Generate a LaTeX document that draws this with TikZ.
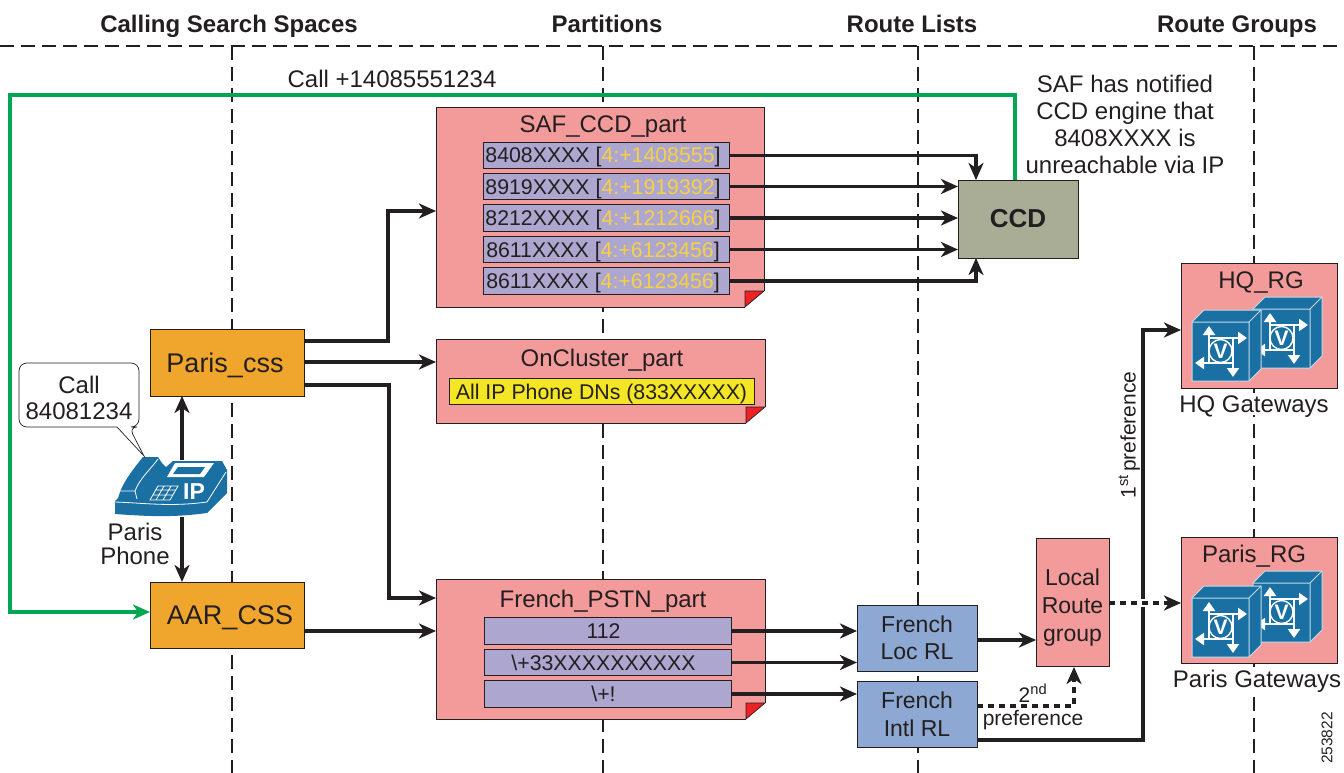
\documentclass[tikz,border=0pt]{standalone}
\usepackage{fontspec}
\setmainfont{Liberation Sans}
\usetikzlibrary{arrows.meta}
\definecolor{encre}{HTML}{231F20}
\definecolor{rose}{HTML}{F39A9A}
\definecolor{orange}{HTML}{F0A62C}
\definecolor{mauve}{HTML}{ADA6CE}
\definecolor{kaki}{HTML}{A9AD96}
\definecolor{bleu}{HTML}{8DA9D3}
\definecolor{jaune}{HTML}{F5E625}
\definecolor{vert}{HTML}{00A651}
\definecolor{rouge}{HTML}{ED2224}
\definecolor{cisco}{HTML}{1A6FA3}
\definecolor{or}{HTML}{F7D046}
\newcommand{\taille}[1]{\fontsize{#1}{#1}\selectfont}
\begin{document}
\begin{tikzpicture}[x=1pt, y=-1pt]
\tikzset{
  noeud/.style={draw=encre, line width=1pt, outer sep=0pt, inner sep=0pt, text=encre, align=center, font=\taille{24}},
  partie/.style={noeud, fill=rose},
  css/.style={noeud, fill=orange, font=\taille{27}, text height=19pt, text depth=0pt},
  entree/.style={noeud, fill=mauve, minimum width=246pt, minimum height=26.5pt, font=\taille{21.3}, text height=15pt, text depth=0pt},
  liste/.style={noeud, fill=bleu, minimum width=120pt, minimum height=66pt, font=\taille{23}, line width=0.6pt},
  texte/.style={text=encre, align=center, inner sep=0pt, font=\taille{24}, text depth=0pt},
  titre/.style={text=encre, inner sep=0pt, font=\taille{24}\bfseries, text height=17pt, text depth=0pt},
  pointille/.style={encre, line width=1.3pt, dash pattern=on 14pt off 7pt},
  fleche/.style={encre, line width=3.5pt, -{Stealth[length=17pt,width=15pt,inset=5pt]}},
  tiret/.style={fleche, dash pattern=on 6pt off 5pt},
  fblanc/.style={white, line width=2.4pt, -{Triangle[length=9pt,width=12pt]}},
  pli/.pic={
    \fill[white] (-19,-16) -- (0.6,-16) -- (0.6,0.6) -- (-19,0.6) -- cycle;
    \draw[fill=rouge, draw=encre, line width=0.7pt] (-19,-16) -- (0,-16) -- (-19,0) -- cycle;
  },
  cube/.pic={
    \fill[cisco] (0,0) -- (12,-12) -- (69,-12) -- (69,47) -- (57,59) -- (0,59) -- cycle;
    \draw[white!75!cisco, line width=1pt] (0,0) -- (12,-12) -- (69,-12) -- (69,47) -- (57,59) -- (0,59) -- cycle;
    \draw[white!75!cisco, line width=1pt] (0,0) -- (57,0) -- (57,59) (57,0) -- (69,-12);
    \draw[fblanc] (17,41) -- (17,4);
    \draw[fblanc] (17,16) -- (55,16);
    \draw[fblanc] (41,16) -- (41,55);
    \draw[fblanc] (41,41) -- (3,41);
    \node[circle, draw=white, fill=cisco, line width=1.4pt, minimum size=23pt, inner sep=0pt, text=white, font=\taille{21}\bfseries] at (28.5,29) {V};
  },
}
\useasboundingbox (0,0) rectangle (1344,773);

% colonnes
\draw[pointille] (0,46) -- (1344,46);
\draw[pointille] (232,46) -- (232,773);
\draw[pointille] (603,46) -- (603,773);
\draw[pointille] (918,46) -- (918,773);
\draw[pointille] (1254,46) -- (1254,773);
\node[titre] (T1) at (229,24) {Calling Search Spaces};
\node[titre] (T2) at (607,24) {Partitions};
\node[titre] (T3) at (912,24) {Route Lists};
\node[titre] (T4) at (1237,24) {Route Groups};

% partitions
\node[partie, minimum width=328pt, minimum height=199pt] (P1) at (600,207.5) {};
\pic at (P1.south east) {pli};
\node[texte] (P1T) at (603,124) {SAF\_CCD\_part};
\node[entree] (E1) at (606,155.5) {8408XXXX [\textcolor{or}{4:+1408555}]\kern6pt};
\node[entree] (E2) at (606,186.5) {8919XXXX [\textcolor{or}{4:+1919392}]\kern6pt};
\node[entree] (E3) at (606,218) {8212XXXX [\textcolor{or}{4:+1212666}]\kern6pt};
\node[entree] (E4) at (606,249.5) {8611XXXX [\textcolor{or}{4:+6123456}]\kern6pt};
\node[entree] (E5) at (606,281) {8611XXXX [\textcolor{or}{4:+6123456}]\kern6pt};

\node[partie, minimum width=329pt, minimum height=84pt] (P2) at (600.5,381) {};
\pic at (P2.south east) {pli};
\node[texte] (P2T) at (602,358) {OnCluster\_part};
\node[entree, fill=jaune, minimum width=305pt] (E6) at (601.5,391.5) {All IP Phone DNs (833XXXXX)};

\node[partie, minimum width=329pt, minimum height=140pt] (P3) at (600.5,649) {};
\pic at (P3.south east) {pli};
\node[texte] (P3T) at (603,599) {French\_PSTN\_part};
\node[entree, minimum width=247pt] (E7) at (607.5,631) {112\kern8pt};
\node[entree, minimum width=247pt] (E8) at (607.5,662.5) {\textbackslash+33XXXXXXXXXX\kern8pt};
\node[entree, minimum width=247pt] (E9) at (607.5,694) {\textbackslash+!\kern8pt};

% boites
\node[css, minimum width=154pt, minimum height=67pt] (PC) at (227,362.5) {Paris\_css\kern4pt};
\node[css, minimum width=154pt, minimum height=66pt] (AC) at (227,615) {\kern6pt AAR\_CSS};
\node[noeud, fill=kaki, minimum width=120pt, minimum height=78pt, font=\taille{26}\bfseries] (CCD) at (1018,219) {CCD};
\node[liste] (L1) at (917,638) {French\\[4.5pt]Loc RL};
\node[liste] (L2) at (917,714) {French\\[4.5pt]Intl RL};
\node[partie, minimum width=73pt, minimum height=128pt, line width=0.6pt] (LR) at (1072.5,602) {};
\node[texte, font=\taille{23}] (LRT) at (1072.5,605) {Local\\[5pt]Route\\[5pt]group};
\node[partie, minimum width=156pt, minimum height=125pt] (G1) at (1259,325.5) {};
\node[partie, minimum width=156pt, minimum height=126pt] (G2) at (1259,600) {};
\node[texte] (G1T) at (1261,280) {HQ\_RG};
\node[texte] (G2T) at (1254,554) {Paris\_RG};
\pic at (1253,309) {cube};
\pic at (1192,322) {cube};
\pic at (1253,583) {cube};
\pic at (1192,598) {cube};
\node[texte, fill=white, inner ysep=3pt] (G1L) at (1254,404) {HQ Gateways};
\node[texte, fill=white, inner ysep=3pt] (G2L) at (1257,679) {Paris Gateways};

% telephone
\fill[cisco] (115,501) -- (118,498) -- (120,492) .. controls (124,481) and (134,468) .. (143,457) -- (158,457) -- (162,463) -- (166,467) -- (173,461) -- (222,461) -- (227,470) -- (227,493) -- (207,513) .. controls (170,518) and (145,516) .. (115,514) -- cycle;
\draw[white, line width=0.8pt] (115,502) .. controls (145,503) and (170,507) .. (207,502) -- (226,472);
\draw[white, line width=0.8pt] (120,491) -- (135,491) .. controls (140,478) and (150,470) .. (158,459);
\draw[white, line width=0.8pt] (135,491) -- (137,499);
\fill[white] (167,477) -- (175,463) -- (214,463) -- (204,477) -- cycle;
\fill[cisco] (173,474) -- (178,467) -- (205,467) -- (200,474) -- cycle;
\draw[white, line width=0.8pt] (150,500) -- (158,486) -- (178,486) -- (170,500) -- cycle (153,495) -- (173,495) (155,490) -- (176,490) (156,500) -- (164,486) (163,500) -- (171,486);
\node[inner sep=0pt, text=white, font=\taille{23}\bfseries] (IP) at (194,492) {IP};
\coordinate (PH1) at (182,460);
\coordinate (PH2) at (182,517);
\node[texte] (PHT) at (135,544) {Paris\\Phone};
\draw[encre, fill=white, line width=0.7pt, rounded corners=8pt] (19,363) -- (139,363) -- (139,427) -- (129,427) [sharp corners] -- (144,456) -- (117,427) [rounded corners=8pt] -- (19,427) -- cycle;
\node[texte] (CT) at (79,398) {Call\\[2pt]84081234};

% connexions
\coordinate (A1) at (436,211);
\coordinate (A3) at (436,598);
\coordinate (C1) at (976,180);
\coordinate (C5) at (976,258);
\draw[fleche] (PH1) -- (PC.south -| PH1);
\draw[fleche] (PH2) -- (AC.north -| PH2);
\draw[fleche] (304,341) -- (388,341) |- (A1);
\draw[fleche] (304,362) -- (436,362);
\draw[fleche] (304,385) -- (389,385) |- (A3);
\draw[fleche] (304,631) -- (436,631);
\draw[fleche] (E1.east) -| (C1);
\draw[fleche] (E2.east) -- (CCD.west |- E2.east);
\draw[fleche] (E3.east) -- (CCD.west |- E3.east);
\draw[fleche] (E4.east) -- (CCD.west |- E4.east);
\draw[fleche] (E5.east) -| (C5);
\draw[fleche] (E7.east) -- (L1.west |- E7.east);
\draw[fleche] (E8.east) -- (L1.west |- E8.east);
\draw[fleche] (E9.east) -- (L2.west |- E9.east);
\draw[fleche] (977,640) -- (1036,640);
\draw[fleche] (977,740) -- (1143,740) |- (G1.west |- 1143,330);
\draw[white, line width=8pt] (1138,603) -- (1148,603);
\draw[tiret] (LR.east |- 1109,603) -- (G2.west |- 1109,603);
\draw[tiret] (977,706) -- (1074,706) -- (1074,667);
\draw[vert, line width=3.5pt, -{Stealth[length=17pt,width=15pt,inset=5pt]}] (1015,180) |- (10,95) |- (AC.west |- 10,612);

\node[texte] (CALL) at (392,79) {Call +14085551234};
\node[texte] (SAF) at (1125,124) {SAF has notified\\[3pt]CCD engine that\\[3pt]8408XXXX is\\[3pt]unreachable via IP};
\node[texte, rotate=90, font=\taille{21}] (PR1) at (1127,435) {1\textsuperscript{st}\kern3pt preference};
\node[texte, font=\taille{21}] (PR2) at (1033,693) {2\textsuperscript{nd}};
\node[texte, font=\taille{21}] (PR3) at (1033,718) {preference};
\node[texte, rotate=90, font=\taille{15.5}] (NUM) at (1327,738) {253822};
\end{tikzpicture}
\end{document}
